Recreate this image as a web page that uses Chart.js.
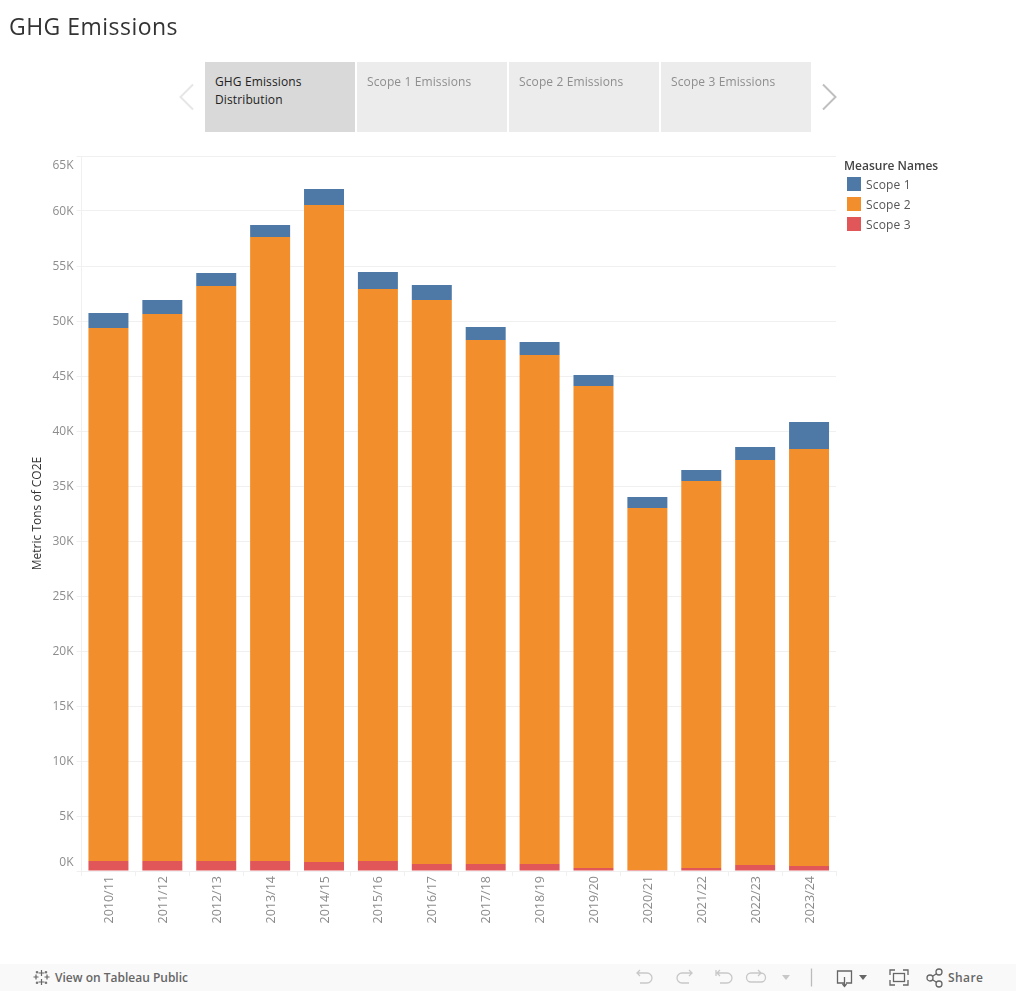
<!DOCTYPE html>
<html>
<head>
<meta charset="utf-8">
<title>GHG Emissions</title>
<script src="https://cdn.jsdelivr.net/npm/chart.js@4"></script>
<style>
  html, body { margin: 0; padding: 0; background: #fff; width: 1016px; height: 991px; overflow: hidden; font-family: "Open Sans", sans-serif; }
  #chart { position: absolute; left: 0; top: 0; }
  .title { position: absolute; left: 9px; top: 10px; font-size: 23px; line-height: 32px; color: #333; letter-spacing: .47px; }
  .tab { position: absolute; top: 62px; width: 150px; height: 70px; background: #ececec; color: #8e8e8e; font-size: 12px; line-height: 18px; letter-spacing: .12px; box-sizing: border-box; padding: 11px 10px; }
  .tab.on { background: #d9d9d9; color: #222; }
  .arrow { position: absolute; top: 83px; }
  .lg-title { position: absolute; left: 844px; top: 157px; font-size: 12px; line-height: 18px; color: #444; font-weight: 600; }
  .lg-box { position: absolute; left: 847px; width: 14px; height: 14px; }
  .lg-text { position: absolute; left: 866px; font-size: 12px; line-height: 18px; color: #555; letter-spacing: .15px; }
  .foot { position: absolute; left: 0; top: 964px; width: 1016px; height: 27px; background: #f9f9f9; }
  .foot svg { position: absolute; top: 0; }
  .foot span { position: absolute; top: 5px; font-size: 12px; line-height: 17px; font-weight: 600; color: #666; }
</style>
</head>
<body>
<canvas id="chart" width="1016" height="991"></canvas>
<div class="title">GHG Emissions</div>

<div class="tab on" style="left:205px">GHG Emissions<br>Distribution</div>
<div class="tab" style="left:357px">Scope 1 Emissions</div>
<div class="tab" style="left:509px">Scope 2 Emissions</div>
<div class="tab" style="left:661px">Scope 3 Emissions</div>
<svg class="arrow" style="left:178px" width="18" height="28"><path d="M15 1.500 L2.500 14 L15 26.500" fill="none" stroke="#e6e6e6" stroke-width="2"/></svg>
<svg class="arrow" style="left:820px" width="18" height="28"><path d="M3 1.500 L15.500 14 L3 26.500" fill="none" stroke="#bfbfbf" stroke-width="2"/></svg>

<div id="legend"></div>

<div class="foot">
  <svg style="left:32px" width="20" height="27" fill="none" stroke="#666" stroke-width="1.200">
    <path d="M9.500 6v6M6.500 9h6M9.500 15v6M6.500 18h6M4 10.500v5M1.500 13h5M15 10.500v5M12.500 13h5M5 7v2.500M3.800 8.200h2.400M14 7v2.500M12.800 8.200h2.400M5 17.500v2.500M3.800 18.800h2.400M14 17.500v2.500M12.800 18.800h2.400"/>
  </svg>
  <span style="left:55px">View on Tableau Public</span>
  <svg style="left:630px" width="180" height="27" fill="none" stroke="#c8c8c8" stroke-width="1.300">
    <path d="M7 9h10a5 5 0 0 1 0 10H10M10 6 L7 9 L10 12"/>
    <path d="M62 9H52a5 5 0 0 0 0 10h7M59 6 L62 9 L59 12"/>
    <path d="M87 9H97a5 5 0 0 1 0 10H90M90 6 L87 9 L90 12M86 6v6"/>
    <path d="M135 9h-10a4.500 4.500 0 0 0 0 9h10a4.500 4.500 0 0 0 0-9M132 6 L135 9 L132 12" transform="translate(-4 0)"/>
    <path d="M152 11h8l-4 5z" fill="#c8c8c8" stroke="none"/>
  </svg>
  <svg style="left:805px" width="135" height="27" fill="none" stroke="#666" stroke-width="1.300">
    <path d="M6.500 7.500v18" stroke="#bbb" transform="translate(0 -3)"/>
    <path d="M39 19h-6.500V7h14v12H41M39.500 13v9M37.500 20l2 2.500 2-2.500"/>
    <path d="M54 11h8l-4 5z" fill="#666" stroke="none"/>
    <path d="M85 11V6h5M98 6h5v5M103 16v5h-5M90 21h-5v-5"/>
    <rect x="88.500" y="9.500" width="11" height="8"/>
  </svg>
  <svg style="left:925px" width="22" height="27" fill="none" stroke="#666" stroke-width="1.300">
    <circle cx="5" cy="14" r="3"/><circle cx="14" cy="8" r="3"/><circle cx="14" cy="20" r="3"/>
    <path d="M7.500 12.300 L11.500 9.700M7.500 15.700 L11.500 18.300"/>
  </svg>
  <span style="left:948px;letter-spacing:.4px">Share</span>
</div>

<script>
const years = ['2010/11', '2011/12', '2012/13', '2013/14', '2014/15', '2015/16', '2016/17', '2017/18', '2018/19', '2019/20', '2020/21', '2021/22', '2022/23', '2023/24'];
const scope1 = [1360, 1270, 1180, 1090, 1450, 1550, 1360, 1180, 1180, 1000, 1000, 1000, 1180, 2450];
const scope2 = [48450, 49730, 52270, 56730, 59730, 52000, 51270, 47640, 46270, 43820, 32910, 35180, 36820, 37910];
const scope3 = [910, 910, 910, 910, 820, 910, 640, 640, 640, 270, 100, 270, 550, 450];
const yTickLabels = ['0K', '5K', '10K', '15K', '20K', '25K', '30K', '35K', '40K', '45K', '50K', '55K', '60K', '65K'];
const legendNames = ['Scope 1', 'Scope 2', 'Scope 3'];
const legendColors = ['#4e79a7', '#f28e2b', '#e15759'];

const grid = '#f0f0f0';
const tickColor = '#8c8c8c';
const fontName = '"Open Sans", sans-serif';

const legend = document.getElementById('legend');
legend.innerHTML = '<div class="lg-title">Measure Names</div>';
legendNames.forEach((name, i) => {
  const top = 177 + i * 20;
  legend.innerHTML += `<div class="lg-box" style="top:${top}px;background:${legendColors[i]}"></div>` +
    `<div class="lg-text" style="top:${top - 1}px">${name}</div>`;
});

const ctx = document.getElementById('chart').getContext('2d');

new Chart(ctx, {
  type: 'bar',
  data: {
    labels: years,
    // scope 3 sits at the bottom of the stack
    datasets: [
      { label: 'Scope 3', data: scope3, backgroundColor: legendColors[2] },
      { label: 'Scope 2', data: scope2, backgroundColor: legendColors[1] },
      { label: 'Scope 1', data: scope1, backgroundColor: legendColors[0] }
    ]
  },
  options: {
    responsive: false,
    animation: false,
    layout: { padding: { left: 0, top: 156, right: 180, bottom: 0 } },
    datasets: { bar: { barPercentage: 0.742, categoryPercentage: 1 } },
    plugins: { legend: { display: false }, tooltip: { enabled: false } },
    scales: {
      x: {
        stacked: true,
        afterFit: (scale) => { scale.height = 120; },
        grid: { color: grid, drawOnChartArea: false, tickLength: 5 },
        border: { color: grid },
        ticks: {
          color: tickColor,
          font: { family: fontName, size: 12.5 },
          minRotation: 90,
          maxRotation: 90,
          padding: 0,
          labelOffset: 1,
          autoSkip: false
        }
      },
      y: {
        stacked: true,
        min: 0,
        max: 65000,
        afterFit: (scale) => { scale.width = 81.5; },
        title: {
          display: true,
          text: 'Metric Tons of CO2E',
          color: '#333',
          font: { family: fontName, size: 12, weight: '400' },
          padding: { top: 30, bottom: 0 }
        },
        grid: { color: grid, tickLength: 5 },
        border: { color: grid },
        ticks: {
          stepSize: 5000,
          color: tickColor,
          padding: 3,
          labelOffset: 1,
          font: { family: fontName, size: 12, lineHeight: 1.5 },
          // first and last labels sit inside the axis range, so pad them with an empty line
          callback: (value, i) => {
            const text = yTickLabels[i];
            if (i === 0) return [text, ''];
            if (i === yTickLabels.length - 1) return ['', text];
            return text;
          }
        }
      }
    }
  }
});
</script>
</body>
</html>
